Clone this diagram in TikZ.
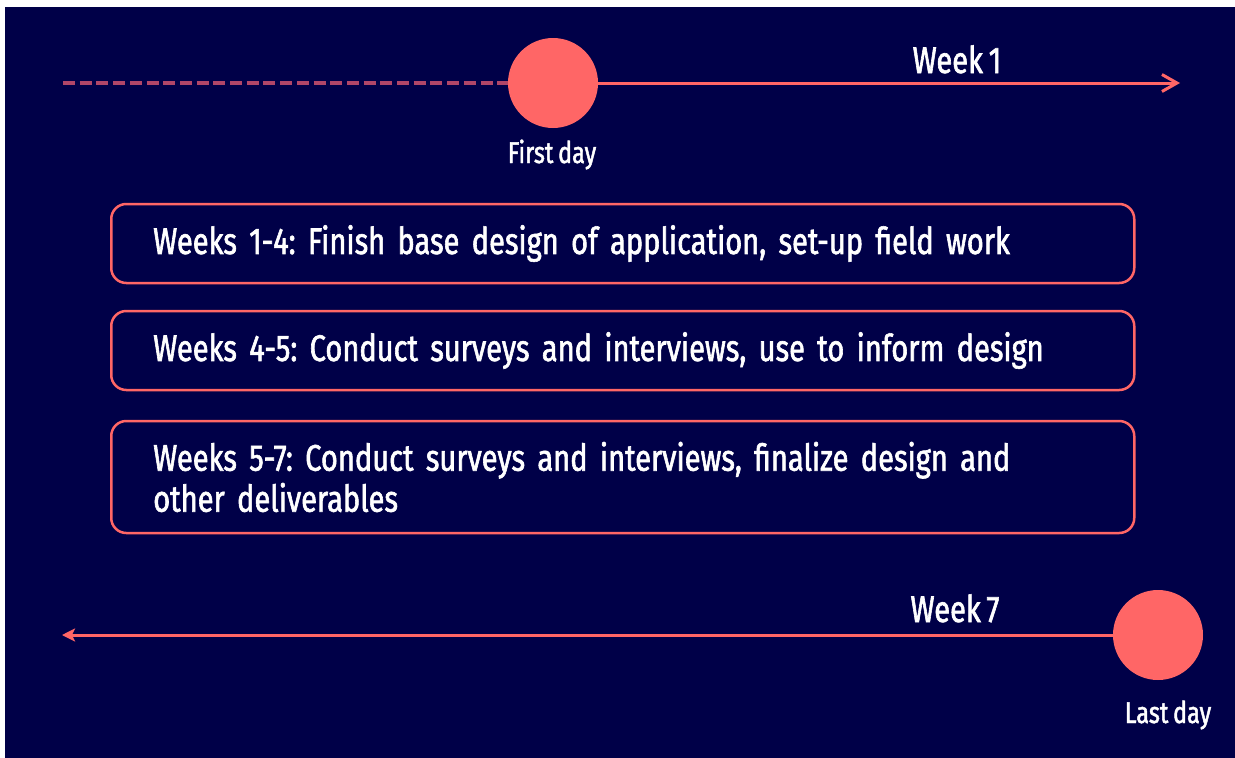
\documentclass[tikz,border=0pt]{standalone}
\usepackage{fontspec}
\setmainfont{Fira Sans}[FakeStretch=0.785, FakeBold=1.6, WordSpace=0.75]
\frenchspacing
\usetikzlibrary{arrows.meta, positioning}

\definecolor{navy}{RGB}{0,0,72}
\definecolor{coral}{RGB}{255,102,102}
\definecolor{mutedcoral}{RGB}{176,70,104}

\begin{document}
\begin{tikzpicture}[x=1pt, y=-1pt,
  dayDot/.style={circle, fill=coral, minimum size=90pt, inner sep=0pt},
  timeLine/.style={draw=coral, line width=3pt},
  pastLine/.style={draw=mutedcoral, line width=3.5pt, dash pattern=on 12pt off 4.7pt},
  weekLabel/.style={anchor=base, text=white, inner sep=0pt, font=\fontsize{37}{40}\selectfont},
  dayLabel/.style={anchor=base, text=white, inner sep=0pt, font=\fontsize{30}{33}\selectfont},
  phaseBox/.style={draw=coral, line width=2.5pt, rounded corners=15pt,
    anchor=west, align=left, text width=939pt, inner xsep=42pt, inner ysep=0pt,
    text=white, font=\fontsize{37}{41}\selectfont}
]
  \useasboundingbox (0,0) rectangle (1235,758);
  \fill[navy] (5,7) rectangle (1235,758);

  % top timeline
  \node[dayDot] (firstDay) at (553,83) {};
  \coordinate (pastStart) at (63,83);
  \coordinate (weekOneEnd) at (1180,83);
  \draw[pastLine] (pastStart) -- (firstDay);
  \draw[timeLine, -{Straight Barb[length=15pt, width=17pt, line width=3pt]}]
    (firstDay) -- (weekOneEnd);
  \node[weekLabel] (weekOne) at (957,73) {Week 1};
  \node[dayLabel] (firstLbl) at (552,163) {First day};

  % phases
  \node[phaseBox, minimum height=79pt] (phaseA) at (110,243.5)
    {Weeks 1-4: Finish base design of application, set-up field work};
  \node[phaseBox, minimum height=79pt] (phaseB) at (110,350.5)
    {Weeks 4-5: Conduct surveys and interviews, use to inform design};
  \node[phaseBox, minimum height=112pt] (phaseC) at (110,477)
    {Weeks 5-7: Conduct surveys and interviews, finalize design and\\other deliverables};

  % bottom timeline
  \node[dayDot] (lastDay) at (1158,635) {};
  \coordinate (weekSevenEnd) at (62,635);
  \draw[timeLine, -{Stealth[length=13pt, width=13pt, inset=3pt]}]
    (lastDay) -- (weekSevenEnd);
  \node[weekLabel] (weekSeven) at (955,622) {Week 7};
  \node[dayLabel] (lastLbl) at (1168,723) {Last day};
\end{tikzpicture}
\end{document}
